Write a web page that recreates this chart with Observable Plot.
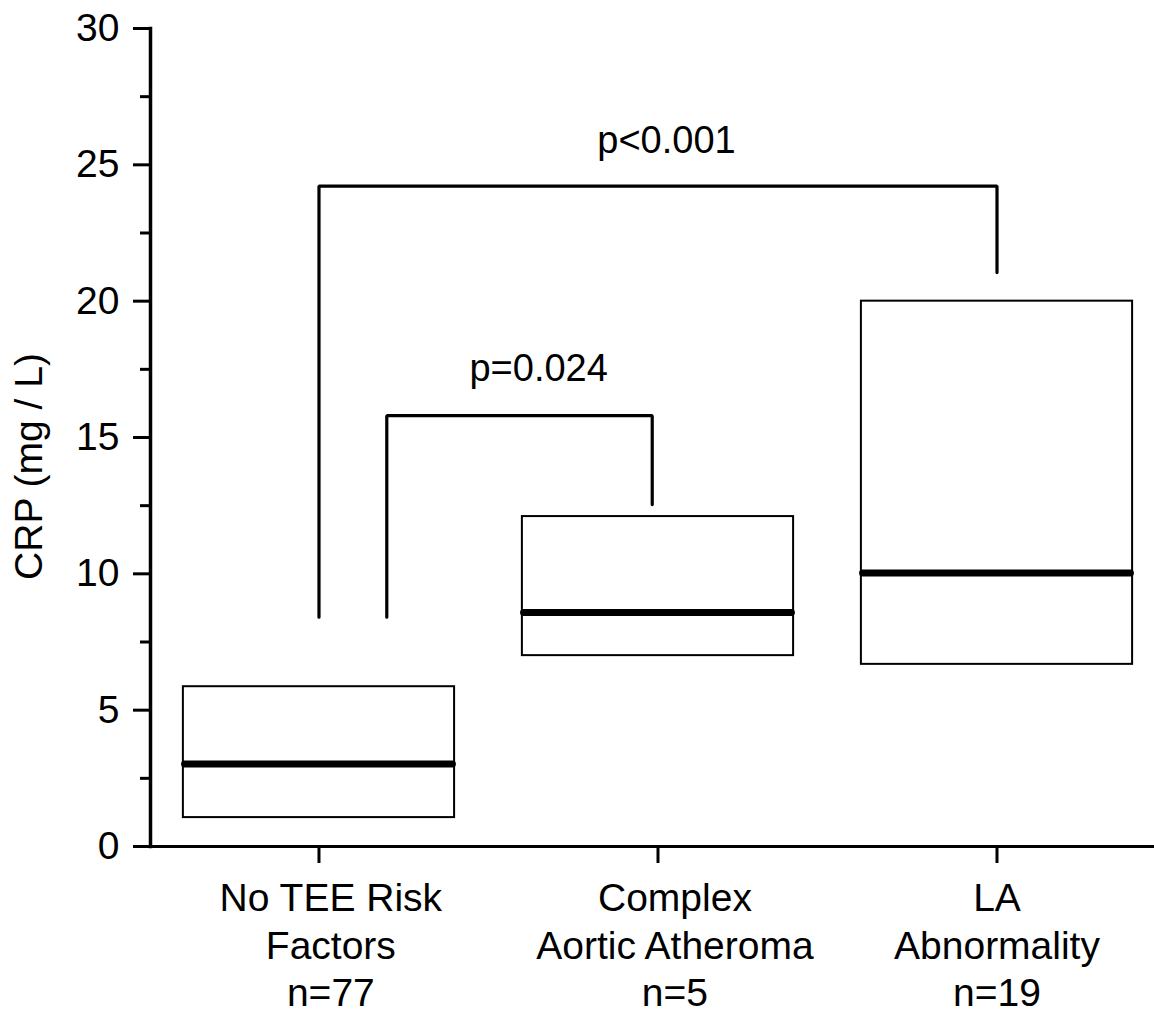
<!DOCTYPE html>
<html>
<head>
<meta charset="utf-8">
<script src="https://cdn.jsdelivr.net/npm/d3@7"></script>
<script src="https://cdn.jsdelivr.net/npm/@observablehq/plot@0.6"></script>
<style>
  html, body { margin: 0; padding: 0; background: #fff; overflow: hidden; }
  svg { display: block; }
</style>
</head>
<body>
<script>
// Categories (x tick labels)
const categories = ["No TEE Risk\nFactors\nn=77", "Complex\nAortic Atheroma\nn=5", "LA\nAbnormality\nn=19"];
// Small horizontal shift of each category label (category index units), as in the original
const labelShift = [0.035, 0.05, 0];
// Box values (mg / L)
const q1Values = [1.06, 7.0, 6.68];
const medianValues = [3.03, 8.58, 10.03];
const q3Values = [5.86, 12.1, 20.0];
// Y ticks
const yMajorTicks = [0, 5, 10, 15, 20, 25, 30];
const yMinorTicks = [2.5, 7.5, 12.5, 17.5, 22.5, 27.5];
// Significance brackets (x in category index units, y in mg / L)
const bracketLabels = ["p<0.001", "p=0.024"];
const bracketFromX = [0, 0.2];
const bracketToX = [2, 0.983];
const bracketTopY = [24.22, 15.8];
const bracketFromEndY = [8.41, 8.41];
const bracketToEndY = [21.05, 12.54];
const bracketLabelX = [1.025, 0.648];
const bracketLabelY = [25.42, 17.09];

const boxes = categories.map((c, i) => ({i, q1: q1Values[i], median: medianValues[i], q3: q3Values[i]}));
const catLabels = categories.map((c, i) => ({c, x: i + labelShift[i]}));
const bracketPts = [];
bracketLabels.forEach((lab, k) => {
  bracketPts.push({k, x: bracketFromX[k], y: bracketFromEndY[k]});
  bracketPts.push({k, x: bracketFromX[k], y: bracketTopY[k]});
  bracketPts.push({k, x: bracketToX[k], y: bracketTopY[k]});
  bracketPts.push({k, x: bracketToX[k], y: bracketToEndY[k]});
});
const bracketText = bracketLabels.map((t, k) => ({t, x: bracketLabelX[k], y: bracketLabelY[k]}));

const half = 0.4;
const font = "'Liberation Sans', Arial, sans-serif";

const chart = Plot.plot({
  width: 1154,
  height: 1011,
  marginLeft: 150,
  marginRight: 0,
  marginTop: 28,
  marginBottom: 165,
  style: {fontFamily: font, background: "white", color: "black"},
  x: {type: "linear", domain: [-0.497, 2.4646]},
  y: {domain: [0, 30]},
  marks: [
    Plot.rect(boxes, {x1: d => d.i - half, x2: d => d.i + half, y1: "q1", y2: "q3", fill: "white", stroke: "black", strokeWidth: 2}),
    Plot.ruleY(boxes, {y: "median", x1: d => d.i - half + 0.005, x2: d => d.i + half - 0.005, stroke: "black", strokeWidth: 7, strokeLinecap: "round"}),
    Plot.line(bracketPts, {x: "x", y: "y", z: "k", stroke: "black", strokeWidth: 3.2, strokeLinecap: "round", strokeLinejoin: "miter"}),
    Plot.text(bracketText, {x: "x", y: "y", text: "t", fontSize: 38, lineAnchor: "bottom", fill: "black"}),
    Plot.axisY({ticks: yMajorTicks, tickSize: 17, tickPadding: 14, fontSize: 39, strokeWidth: 3, tickFormat: d3.format("d"), label: null}),
    Plot.axisY({ticks: yMinorTicks, tickSize: 10, text: null, strokeWidth: 3, label: null}),
    Plot.axisX({ticks: [0, 1, 2], tickSize: 17, text: null, strokeWidth: 3, label: null}),
    Plot.text(catLabels, {x: "x", text: "c", frameAnchor: "bottom", lineAnchor: "top", dy: 31, lineHeight: 1.22, fontSize: 39, fill: "black"}),
    Plot.frame({anchor: "left", stroke: "black", strokeWidth: 3.5}),
    Plot.ruleY([0], {stroke: "black", strokeWidth: 3.2}),
    Plot.text(["CRP (mg / L)"], {frameAnchor: "left", rotate: -90, dx: -109, dy: 29, fontSize: 39, lineAnchor: "bottom", textAnchor: "middle", fill: "black"})
  ]
});
document.body.appendChild(chart);
</script>
</body>
</html>
